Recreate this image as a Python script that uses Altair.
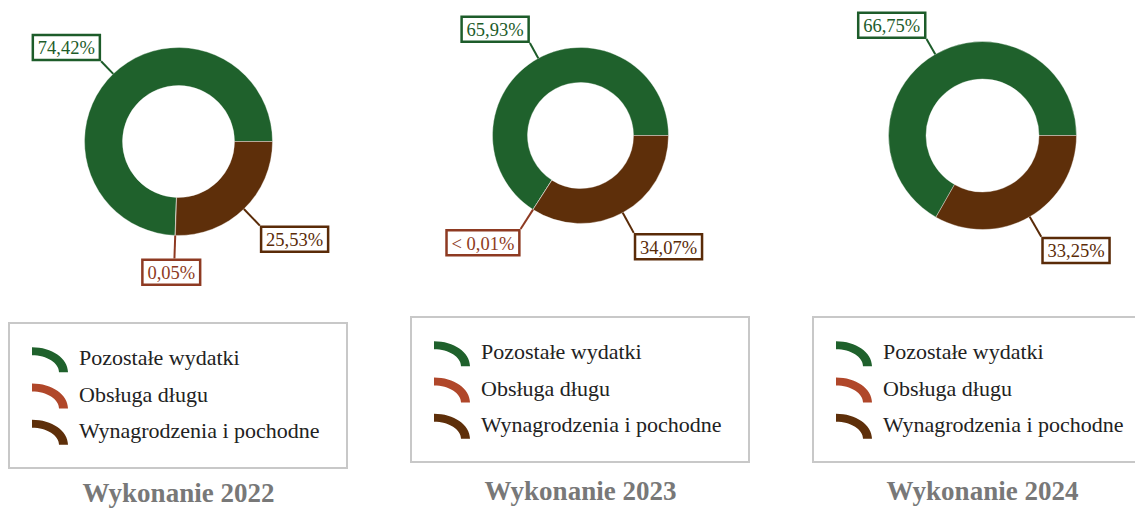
import math
import altair as alt
import pandas as pd

# ---- data -------------------------------------------------------------
years = ["2022", "2023", "2024"]
titles = ["Wykonanie 2022", "Wykonanie 2023", "Wykonanie 2024"]
categories = ["Pozostałe wydatki", "Obsługa długu", "Wynagrodzenia i pochodne"]

pozostale = [74.42, 65.93, 66.75]
obsluga = [0.05, 0.005, None]
wynagrodzenia = [25.53, 34.07, 33.25]

pozostale_labels = ["74,42%", "65,93%", "66,75%"]
obsluga_labels = ["0,05%", "< 0,01%", None]
wynagrodzenia_labels = ["25,53%", "34,07%", "33,25%"]

# ---- style ------------------------------------------------------------
arc_colors = ["#1f612c", "#b0472a", "#5e2f0a"]
label_colors = ["#1d5c2a", "#8e3a22", "#5a2b08"]
stack_order = {"Wynagrodzenia i pochodne": 0, "Obsługa długu": 1, "Pozostałe wydatki": 2}

FONT = "Liberation Serif"
LABEL_SIZE = 18.5
BOX_H = 25
BORDER = 2.5
CHAR_W = {",": 0.25, "%": 0.833, "<": 0.564, " ": 0.25}

SYMBOL_PATH = ("M -1 -0.694 A 2 1.389 0 0 1 1 0.694 L 0.5 0.694 "
               "A 1.5 0.944 0 0 0 -1 -0.25 Z")

PANEL_W = [402, 402, 323]
PANEL_H = 500


def text_width(s):
    return sum(CHAR_W.get(c, 0.5) for c in s) * LABEL_SIZE


def panel(i, r_out, r_in, off):
    rows = []
    for cat, vals, labs in [
        (categories[0], pozostale, pozostale_labels),
        (categories[1], obsluga, obsluga_labels),
        (categories[2], wynagrodzenia, wynagrodzenia_labels),
    ]:
        if vals[i] is None:
            continue
        rows.append({
            "category": cat,
            "value": vals[i],
            "label": labs[i],
            "order": stack_order[cat],
            "bw": text_width(labs[i]) + 10,
        })
    df = pd.DataFrame(rows)
    cx, cy = 170.5, 127.5 + off

    color_scale = alt.Scale(domain=categories, range=arc_colors)
    line_scale = alt.Scale(domain=categories, range=label_colors)

    base = alt.Chart(df)
    arcs = base.mark_arc(stroke="#ffffff", strokeWidth=0.6, strokeOpacity=0.6).encode(
        theta=alt.Theta("value:Q", stack=True,
                        scale=alt.Scale(range=[math.pi / 2, 5 * math.pi / 2], nice=False, zero=True)),
        order=alt.Order("order:Q", sort="ascending"),
        color=alt.Color("category:N", scale=color_scale, legend=None),
        x=alt.value(cx), y=alt.value(cy),
        radius=alt.value(r_out), radius2=alt.value(r_in),
    )

    lab = (
        base.transform_window(cum="sum(value)", sort=[alt.SortField("order", order="ascending")])
        .transform_joinaggregate(total="sum(value)")
        .transform_calculate(mid="PI/2 + 2*PI*(datum.cum - datum.value/2)/datum.total")
        .transform_calculate(ux="sin(datum.mid)")
        .transform_calculate(uy="-cos(datum.mid)")
        .transform_calculate(lead=f"datum.uy < 0 ? {r_out + 17.5} : {r_out + 23}")
        .transform_calculate(m="max(abs(datum.ux), abs(datum.uy))")
        .transform_calculate(ex=f"{cx} + {r_out}*datum.ux")
        .transform_calculate(ey=f"{cy} + {r_out}*datum.uy")
        .transform_calculate(px=f"{cx} + datum.lead*datum.ux")
        .transform_calculate(py=f"{cy} + datum.lead*datum.uy")
        .transform_calculate(fx="clamp(3*datum.ux/datum.m, -1, 1)")
        .transform_calculate(fy="clamp(3*datum.uy/datum.m, -1, 1)")
        .transform_calculate(bx=f"datum.px + datum.fx*(datum.bw + {BORDER})/2")
        .transform_calculate(by=f"datum.py + datum.fy*({BOX_H} + {BORDER})/2")
        .transform_calculate(bx1="datum.bx - datum.bw/2")
        .transform_calculate(bx2="datum.bx + datum.bw/2")
        .transform_calculate(by1=f"datum.by - {BOX_H}/2")
        .transform_calculate(by2=f"datum.by + {BOX_H}/2")
    )

    leaders = lab.mark_rule(strokeWidth=2).encode(
        x=alt.X("ex:Q", scale=None), y=alt.Y("ey:Q", scale=None),
        x2="px:Q", y2="py:Q",
        stroke=alt.Stroke("category:N", scale=line_scale, legend=None),
    )
    boxes = lab.mark_rect(fill="white", strokeWidth=BORDER).encode(
        x=alt.X("bx1:Q", scale=None), x2="bx2:Q",
        y=alt.Y("by1:Q", scale=None), y2="by2:Q",
        stroke=alt.Stroke("category:N", scale=line_scale, legend=None),
    )
    texts = lab.mark_text(font=FONT, fontSize=LABEL_SIZE, align="center", baseline="middle", dy=1).encode(
        x=alt.X("bx:Q", scale=None), y=alt.Y("by:Q", scale=None),
        text="label:N",
        fill=alt.Fill("category:N", scale=line_scale, legend=None),
    )

    # legend drawn from the category list
    leg_df = pd.DataFrame({"category": categories, "idx": list(range(len(categories)))})
    leg = alt.Chart(leg_df).transform_calculate(ry=f"{345.8 + off} + datum.idx*36.2")
    title_df = pd.DataFrame({"title": [titles[i]]})
    leg_box = alt.Chart(title_df).mark_rect(fill="white", stroke="#c8c8c8", strokeWidth=2, clip=True).encode(
        x=alt.value(1), x2=alt.value(339), y=alt.value(309 + off), y2=alt.value(454 + off)
    )
    symbols = leg.mark_point(shape=SYMBOL_PATH, filled=True, size=1296, opacity=1, strokeWidth=0).encode(
        x=alt.value(42), y=alt.Y("ry:Q", scale=None),
        color=alt.Color("category:N", scale=color_scale, legend=None),
    )
    leg_text = leg.mark_text(font=FONT, fontSize=22, align="left", baseline="alphabetic",
                             color="#222222", dy=5.5).encode(
        x=alt.value(71), y=alt.Y("ry:Q", scale=None), text="category:N"
    )
    title = alt.Chart(title_df).mark_text(font=FONT, fontSize=27, fontWeight="bold",
                                          color="#787878", align="center",
                                          baseline="alphabetic", clip=True).encode(
        x=alt.value(170.5), y=alt.value(492 + off / 3), text="title:N"
    )

    return alt.layer(arcs, leaders, boxes, texts, leg_box, symbols, leg_text, title).properties(
        width=PANEL_W[i], height=PANEL_H
    )


panels = [
    panel(0, 94, 56, 6),
    panel(1, 88, 53, 0),
    panel(2, 94, 56.5, 0),
]

chart = (
    alt.hconcat(*panels, spacing=0)
    .properties(padding=0)
    .configure_view(stroke=None)
)

chart.save("out.html", embed_options={"renderer": "svg", "actions": False})
